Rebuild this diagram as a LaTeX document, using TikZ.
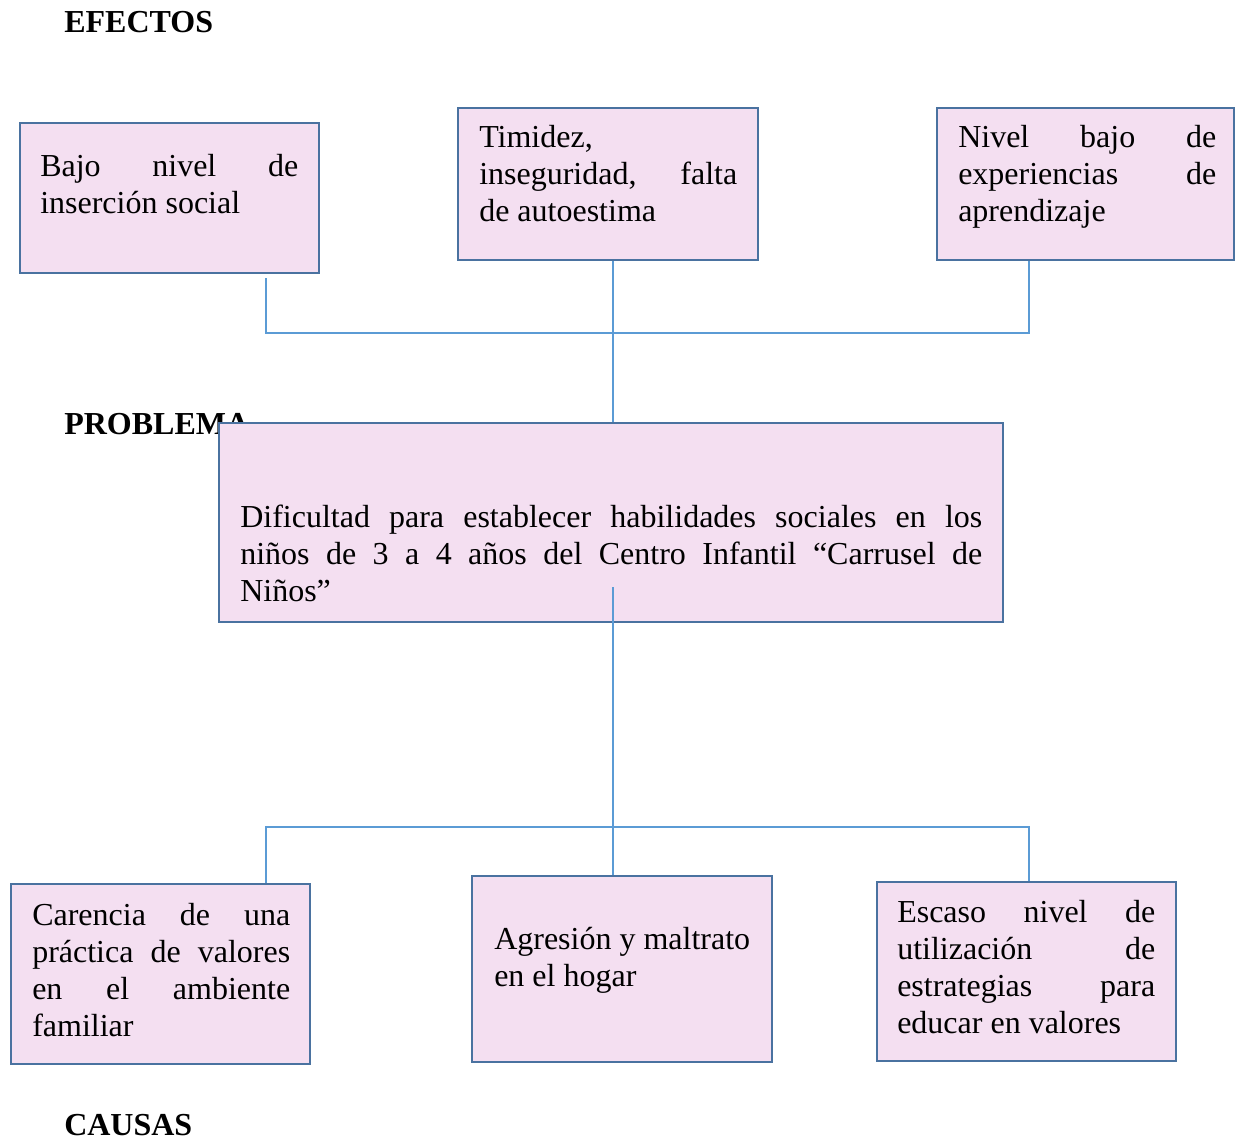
\documentclass[tikz,border=0pt]{standalone}
\usepackage{fontspec}
\setmainfont{Liberation Serif}
\usetikzlibrary{fit,calc}
\definecolor{boxfill}{HTML}{F4DFF1}
\definecolor{boxdraw}{HTML}{4A72A0}
\definecolor{connc}{HTML}{5B9BD5}
\newcommand{\jl}[1]{\makebox[\hsize][s]{\spaceskip=0pt\xspaceskip=0pt\relax #1}\\}
\begin{document}
\begin{tikzpicture}[x=0.75pt,y=-0.75pt,
  box/.style={draw=boxdraw, line width=1.9pt, fill=boxfill, inner sep=0pt},
  txt/.style={anchor=base west, inner sep=0pt, text width=#1, align=left,
    font=\fontsize{24}{27.75}\selectfont,
    execute at begin node={\spaceskip=0pt\xspaceskip=0pt\relax}},
  lbl/.style={anchor=base west, inner sep=0pt, font=\fontsize{24}{27.75}\selectfont\bfseries},
  conn/.style={draw=connc, line width=1.1pt}]
\useasboundingbox (0,0) rectangle (1236,1140);

% labels
\node[lbl] (efe) at (64,32) {EFECTOS};
\node[lbl] (pro) at (64,434) {PROBLEMA};
\node[lbl] (cau) at (64,1135) {CAUSAS};

% effects
\node[box, fit={(20,123)(319,273)}] (e1) {};
\node[txt=193.5pt] (t1) at (40,176) {\jl{Bajo nivel de}inserción social};
\node[box, fit={(458,108)(758,260)}] (e2) {};
\node[txt=193.5pt] (t2) at (479,147) {Timidez,\\\jl{inseguridad, falta}de autoestima};
\node[box, fit={(937,108)(1234,260)}] (e3) {};
\node[txt=193.5pt] (t3) at (958,147) {\jl{Nivel bajo de}\jl{experiencias de}aprendizaje};

% problem
\node[box, fit={(219,423)(1003,622)}] (p) {};
\node[txt=556.5pt] (tp) at (240,527) {\jl{Dificultad para establecer habilidades sociales en los}\jl{niños de 3 a 4 años del Centro Infantil “Carrusel de}Niños”};

% causes
\node[box, fit={(11,884)(310,1064)}] (c1) {};
\node[txt=193.5pt] (tc1) at (32,925) {\jl{Carencia de una}\jl{práctica de valores}\jl{en el ambiente}familiar};
\node[box, fit={(472,876)(772,1062)}] (c2) {};
\node[txt=210pt] (tc2) at (494,949) {\mbox{Agresión y maltrato}\\en el hogar};
\node[box, fit={(877,882)(1176,1061)}] (c3) {};
\node[txt=193.5pt] (tc3) at (897,922) {\jl{Escaso nivel de}\jl{utilización de}\jl{estrategias para}educar en valores};

% connectors (effects)
\coordinate (j1) at (266,333);
\coordinate (j3) at (1029,333);
\coordinate (m) at (613,333);
\draw[conn] ([yshift=-3pt]e1.south -| j1) -- (j1) -- (j3) -- (e3.south -| j3);
\draw[conn] (e2.south -| m) -- (p.north -| m);

% connectors (causes)
\coordinate (ps) at (613,587);
\draw[conn] (ps) -- (ps |- c2.north);
\coordinate (k1) at (266,827);
\coordinate (k3) at (1029,827);
\draw[conn] (c1.north -| k1) -- (k1) -- (k3) -- (c3.north -| k3);
\end{tikzpicture}
\end{document}
